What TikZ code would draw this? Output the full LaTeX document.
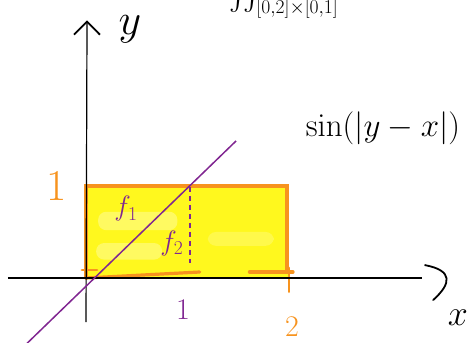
\RequirePackage{fix-cm}
\documentclass[tikz,border=0pt]{standalone}
\usepackage{amsmath, amssymb}
\usepackage{tikz}
\usetikzlibrary{positioning, arrows.meta}
\definecolor{penorange}{RGB}{247,147,30}
\definecolor{penpurple}{RGB}{128,38,145}
\definecolor{marker}{RGB}{255,248,30}

\begin{document}
\begin{tikzpicture}[>={Straight Barb[length=13pt, width=26pt, line width=1.8pt]}, x=101.5pt, y=92pt]
  \useasboundingbox (-0.8473,-0.7065) rectangle (3.7931,3.0217);
  % region
  \fill[marker] (0,0.01) rectangle (1.99,1);
  \fill[white, opacity=0.3, rounded corners=8pt] (0.12,0.52) rectangle (0.9,0.72);
  \fill[white, opacity=0.3, rounded corners=8pt] (0.1,0.2) rectangle (0.75,0.38);
  \fill[white, opacity=0.2, rounded corners=8pt] (1.2,0.35) rectangle (1.85,0.5);
  \draw[penorange, line width=3.2pt, line cap=round] (0,0) -- (0,1) -- (1.98,1) -- (1.98,0.08);
  \draw[penorange, line width=3.2pt, line cap=round] (0,0) -- (1.12,0.065);
  \draw[penorange, line width=3.2pt, line cap=round] (1.61,0.065) -- (2.04,0.065);
  \draw[penorange, line width=2.6pt, line cap=round] (2.0,0.11) -- (2.0,-0.15);
  \draw[penorange, line width=2.6pt, line cap=round] (-0.04,0.087) -- (0.108,0.087);
  % axes
  \coordinate (ybot) at (0,-0.48);
  \coordinate (ytop) at (0.01,2.80);
  \coordinate (xl) at (-0.77,0);
  \coordinate (xr) at (3.31,0);
  \draw[line width=1.2pt, ->] (ybot) -- (ytop);
  \draw[line width=1.2pt] (xl) -- (xr);
  \draw[line width=1.8pt, line cap=round] (3.34,0.14) .. controls (3.62,0.08) and (3.60,-0.06) .. (3.42,-0.24);
  % diagonal y = x and cut
  \coordinate (d1) at (-0.59,-0.72);
  \coordinate (d2) at (1.478,1.489);
  \draw[penpurple, line width=1.5pt] (d1) -- (d2);
  \coordinate (c1) at (1.025,0.99);
  \coordinate (c2) at (1.025,0.16);
  \draw[penpurple, line width=1.1pt, dash pattern=on 5pt off 4pt] (c1) -- (c2);
  % labels
  \node[font=\fontsize{44}{44}\selectfont] (YL) at (0.433,2.70) {$y$};
  \node[font=\fontsize{36}{36}\selectfont] (XL) at (3.665,-0.435) {$x$};
  \node[penorange, font=\fontsize{44}{44}\selectfont] (Y1) at (-0.286,1.0) {1};
  \node[penpurple, font=\fontsize{30}{30}\selectfont] (X1) at (0.956,-0.348) {1};
  \node[penorange, font=\fontsize{30}{30}\selectfont] (X2) at (2.03,-0.53) {2};
  \node[penpurple, font=\fontsize{28}{28}\selectfont] (F1) at (0.394,0.75) {$f_1$};
  \node[penpurple, font=\fontsize{28}{28}\selectfont] (F2) at (0.847,0.38) {$f_2$};
  \node[font=\fontsize{33}{33}\selectfont] (S) at (2.926,1.63) {$\sin(|y-x|)$};
  \node[anchor=base west, inner sep=0, font=\fontsize{28}{28}\selectfont] (I) at (1.409,2.978) {$\iint_{[0,2]\times[0,1]}$};
\end{tikzpicture}
\end{document}
